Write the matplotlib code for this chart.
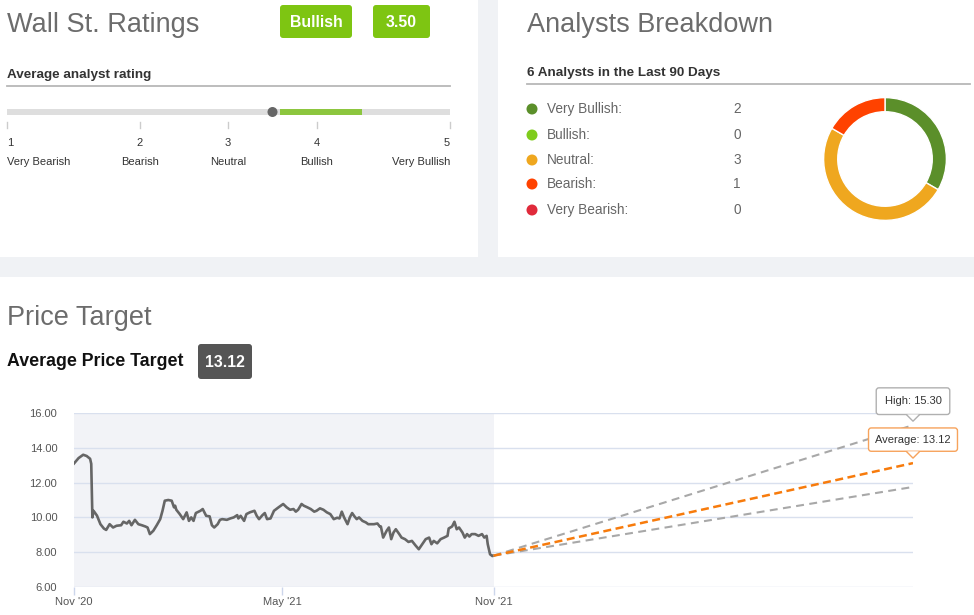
import numpy as np
import matplotlib.pyplot as plt
from matplotlib.patches import Rectangle, FancyBboxPatch, Circle, Polygon

plt.rcParams['font.family'] = ['Liberation Sans', 'DejaVu Sans']

# ======================================================
# DATA
# ======================================================
rating_scale = [1, 2, 3, 4, 5]
rating_names = ['Very Bearish', 'Bearish', 'Neutral', 'Bullish', 'Very Bullish']
avg_rating = 3.50
consensus = 'Bullish'
green_range = [3.58, 4.34]

breakdown_names = ['Very Bullish', 'Bullish', 'Neutral', 'Bearish', 'Very Bearish']
breakdown_counts = [2, 0, 3, 1, 0]
breakdown_colors = ['#5b8f2a', '#7fcc1c', '#efa71f', '#ff4200', '#e02a3b']
period_days = 90

# days since Nov '20, closing price
price_days = [0, 1, 4, 8, 11, 14, 15, 16, 17, 20, 23, 26, 28, 31, 34, 37, 41, 43, 46, 48,
              50, 53, 56, 59, 62, 64, 66, 69, 72, 75, 77, 79, 82, 85, 87, 88, 89, 92, 95, 98,
              100, 102, 104, 106, 110, 112, 115, 118, 120, 122, 125, 127, 129, 133, 136, 139,
              142, 143, 145, 148, 150, 153, 157, 159, 161, 164, 166, 168, 171, 174, 178, 182,
              185, 188, 191, 193, 195, 198, 200, 203, 206, 209, 211, 214, 217, 220, 223, 226,
              229, 231, 233, 235, 238, 240, 242, 244, 246, 248, 251, 254, 256, 261, 264, 266,
              267, 269, 272, 274, 276, 278, 280, 283, 285, 288, 291, 294, 297, 300, 303, 306,
              309, 311, 313, 316, 319, 322, 325, 326, 329, 331, 333, 335, 338, 340, 342, 344,
              346, 349, 352, 355, 357, 359, 360, 362, 364, 365]
price_values = [13.10, 13.18, 13.41, 13.60, 13.53, 13.37, 13.08, 10.00, 10.38, 10.10, 9.61, 9.36,
                9.28, 9.61, 9.42, 9.52, 9.55, 9.75, 9.65, 9.80, 9.55, 9.86, 9.61, 9.55, 9.48,
                9.42, 9.04, 9.23, 9.55, 9.90, 10.38, 10.96, 11.00, 10.96, 10.58, 10.67, 10.44,
                10.19, 9.90, 10.29, 9.80, 10.00, 9.80, 10.25, 10.38, 10.48, 10.09, 10.06, 9.55,
                9.42, 9.61, 9.86, 9.90, 9.86, 9.94, 10.00, 10.13, 9.94, 10.09, 9.80, 10.19,
                10.29, 10.38, 10.09, 9.90, 10.13, 10.25, 9.90, 9.94, 10.38, 10.58, 10.77, 10.58,
                10.44, 10.48, 10.33, 10.44, 10.77, 10.67, 10.58, 10.48, 10.33, 10.38, 10.52,
                10.44, 10.29, 10.19, 9.90, 9.98, 9.94, 10.33, 10.00, 9.61, 10.00, 10.25, 10.06,
                9.90, 10.00, 9.80, 9.71, 9.61, 9.61, 9.65, 9.48, 9.48, 8.84, 9.23, 9.42, 8.75,
                9.13, 9.32, 9.04, 8.84, 8.75, 8.59, 8.65, 8.40, 8.17, 8.46, 8.75, 8.84, 8.46,
                8.65, 8.51, 8.75, 8.84, 8.94, 9.36, 9.48, 9.75, 9.32, 9.42, 9.13, 8.84, 9.04,
                8.90, 9.04, 9.04, 8.94, 9.04, 8.84, 8.94, 8.46, 7.88, 7.78, 7.80]
target_day = 730
target_high = 15.30
target_avg = 13.12
target_low = 11.75

x_ticks = [0, 181, 365]
x_tick_labels = ["Nov '20", "May '21", "Nov '21"]
y_ticks = [6, 8, 10, 12, 14, 16]

# ======================================================
# FIGURE + PIXEL CANVAS
# ======================================================
W, H = 974, 615
fig = plt.figure(figsize=(W / 100, H / 100), dpi=100, facecolor='#f0f2f5')
bg = fig.add_axes([0, 0, 1, 1])
bg.set_xlim(0, W)
bg.set_ylim(H, 0)
bg.axis('off')

bg.add_patch(Rectangle((0, 0), 478, 257, fc='white', ec='none'))
bg.add_patch(Rectangle((498, 0), 476, 257, fc='white', ec='none'))
bg.add_patch(Rectangle((0, 277), W, H - 277, fc='white', ec='none'))

title_kw = dict(fontsize=19.5, color='#6c6c6c', va='baseline')


def badge(x0, y0, w, h, txt, fc):
    bg.add_patch(FancyBboxPatch((x0, y0), w, h, boxstyle='round,pad=0,rounding_size=3',
                                fc=fc, ec='none'))
    bg.text(x0 + w / 2, y0 + h / 2 + 1, txt, ha='center', va='center', color='white',
            fontsize=11.4, fontweight='bold')


# ======================================================
# 1. WALL ST. RATINGS
# ======================================================
bg.text(7, 32, 'Wall St. Ratings', **title_kw)
badge(280, 5, 72, 33, consensus, '#7ec512')
badge(373, 5, 57, 33, f'{avg_rating:.2f}', '#7ec512')

bg.text(7, 78, 'Average analyst rating', fontsize=9.7, fontweight='bold', color='#333333',
        va='baseline')
bg.plot([7, 450], [86, 86], color='#b8b8b8', lw=1.3)

tick_x = [7, 140, 228, 317, 450]
bg.plot([7, 450], [112, 112], color='#dedede', lw=4.3, solid_capstyle='butt')
gx = np.interp(green_range, rating_scale, tick_x)
bg.plot(gx, [112, 112], color='#8cc63e', lw=4.3, solid_capstyle='butt')
bg.add_patch(Circle((np.interp(avg_rating, rating_scale, tick_x), 112), 5, fc='#666666',
                    ec='none', zorder=5))

for i, (val, name) in enumerate(zip(rating_scale, rating_names)):
    tx = tick_x[i]
    bg.plot([tx, tx], [122, 128], color='#cccccc', lw=1)
    ha = 'left' if i == 0 else ('right' if i == len(rating_scale) - 1 else 'center')
    bg.text(tx, 146, str(val), ha=ha, va='baseline', fontsize=8, color='#333333')
    bg.text(tx, 165, name, ha=ha, va='baseline', fontsize=8, color='#333333')

# ======================================================
# 2. ANALYSTS BREAKDOWN
# ======================================================
bg.text(527, 32, 'Analysts Breakdown', **title_kw)
bg.text(527, 76, f'{sum(breakdown_counts)} Analysts in the Last {period_days} Days',
        fontsize=9.7, fontweight='bold', color='#333333', va='baseline')
bg.plot([527, 970], [84, 84], color='#b8b8b8', lw=1.3)

legend_y = [109, 135, 160, 184, 210]
for y, name, cnt, col in zip(legend_y, breakdown_names, breakdown_counts, breakdown_colors):
    bg.add_patch(Circle((532, y), 5.5, fc=col, ec='none'))
    bg.text(547, y, name + ':', va='center', fontsize=9.8, color='#666666')
    bg.text(737, y, str(cnt), ha='center', va='center', fontsize=9.8, color='#666666')

cx, cy, r = 885, 159, 62
pax = fig.add_axes([(cx - r) / W, (H - cy - r) / H, 2 * r / W, 2 * r / H])
nz = [(c, col) for c, col in zip(breakdown_counts, breakdown_colors) if c > 0]
pax.pie([c for c, _ in nz], colors=[col for _, col in nz], startangle=90, counterclock=False,
        radius=1, wedgeprops=dict(width=0.23, edgecolor='white', linewidth=1))
pax.set_xlim(-1.01, 1.01)
pax.set_ylim(-1.01, 1.01)
pax.set_aspect('equal')
pax.axis('off')

# ======================================================
# 3. PRICE TARGET CHART
# ======================================================
bg.text(7, 325, 'Price Target', **title_kw)
bg.text(7, 366, 'Average Price Target', fontsize=12.8, fontweight='bold', color='#111111',
        va='baseline')
badge(198, 344, 54, 35, f'{target_avg:.2f}', '#555555')

x0, x1, y0, y1 = 74, 913, 413, 587
ax = fig.add_axes([x0 / W, (H - y1) / H, (x1 - x0) / W, (y1 - y0) / H])
ax.set_facecolor('white')
ax.axvspan(0, 365, color='#f2f3f7', zorder=0, lw=0)
ax.set_xlim(0, target_day)
ax.set_ylim(6, 16)
ax.set_yticks(y_ticks)
ax.set_yticklabels([f'{v:.2f}' for v in y_ticks])
ax.set_xticks(x_ticks)
ax.set_xticklabels(x_tick_labels)
ax.yaxis.grid(True, color='#d9e0ee', lw=1)
ax.set_axisbelow(True)
for s in ax.spines.values():
    s.set_visible(False)
ax.tick_params(axis='y', length=0, pad=12, labelsize=8, labelcolor='#555555')
ax.tick_params(axis='x', length=6, width=1, color='#ccd6eb', pad=1, labelsize=8,
               labelcolor='#555555')

ax.plot(price_days, price_values, color='#666666', lw=1.9, zorder=3)
last_day, last_px = price_days[-1], price_values[-1]
ax.plot([last_day, target_day], [last_px, target_high], color='#a8a8a8', lw=1.5,
        dashes=(3.8, 2.6), zorder=3)
ax.plot([last_day, target_day], [last_px, target_low], color='#a8a8a8', lw=1.5,
        dashes=(3.8, 2.6), zorder=3)
ax.plot([last_day, target_day], [last_px, target_avg], color='#f77b0c', lw=1.8,
        dashes=(3.2, 1.8), zorder=4)

# callouts drawn on an overlay so they sit above the chart
top = fig.add_axes([0, 0, 1, 1])
top.set_xlim(0, W)
top.set_ylim(H, 0)
top.axis('off')


def callout(val, txt, ec, lift, half_h, pad):
    px, py = ax.transData.transform((target_day, val))
    py = H - py
    tip = py - lift
    base = tip - 6
    top.text(px, base - half_h, txt, ha='center', va='center', fontsize=8, color='#333333',
             bbox=dict(boxstyle=f'round,pad={pad},rounding_size=0.25', fc='white', ec=ec, lw=1))
    top.add_patch(Polygon([[px - 6, base - 0.8], [px + 6, base - 0.8], [px, tip]],
                          closed=True, fc='white', ec='none', zorder=5))
    top.plot([px - 6, px, px + 6], [base, tip, base], color=ec, lw=1, zorder=6)


callout(target_high, f'High: {target_high:.2f}', '#b0b0b0', 4, 14, 0.75)
callout(target_avg, f'Average: {target_avg:.2f}', '#f7a35c', 5, 12.5, 0.6)

plt.savefig('out.png', dpi=100, facecolor=fig.get_facecolor())
